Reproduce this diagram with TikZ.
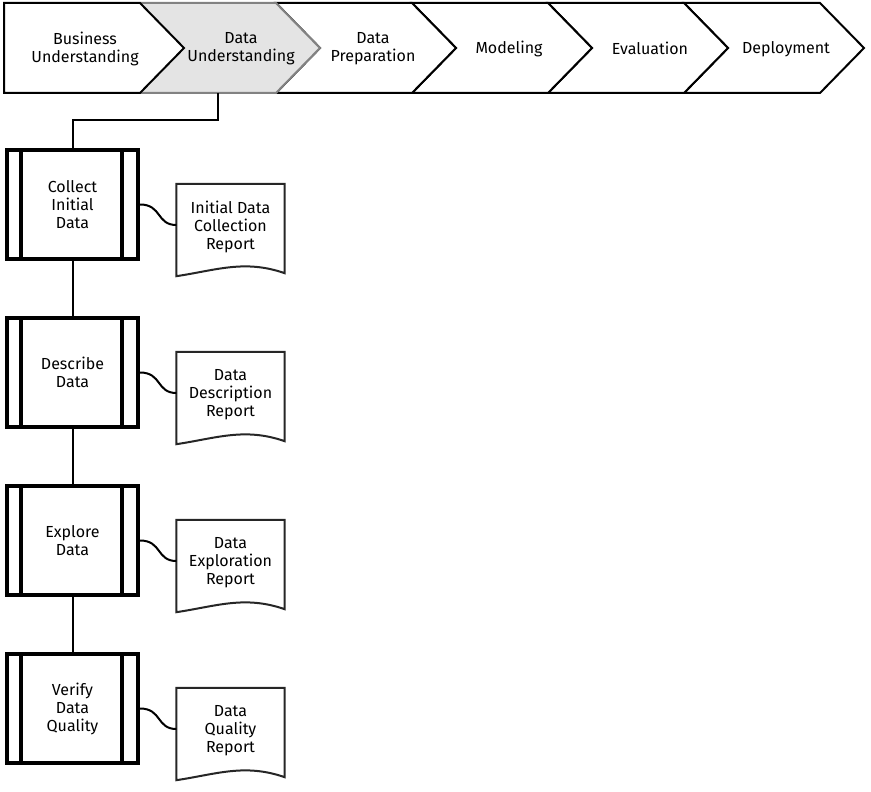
\documentclass[tikz,border=0pt]{standalone}
\usepackage{fontspec}
\setmainfont{Fira Sans}
\definecolor{phasefill}{RGB}{228,228,228}
\definecolor{phaseedge}{RGB}{130,130,130}
\begin{document}
\begin{tikzpicture}[x=1pt,y=-1pt,
  every node/.style={font=\fontsize{16}{18}\selectfont, align=center, inner sep=0pt},
  phase/.style={draw=black, line width=2pt, fill=white, line join=miter},
  current/.style={draw=phaseedge, line width=2pt, fill=phasefill, line join=miter},
  procbox/.style={draw=black, line width=4pt, minimum width=131pt, minimum height=109pt},
  docbox/.style={minimum width=108pt, minimum height=92pt},
  docline/.style={draw=black!85, line width=2pt, fill=white, line join=miter},
  conn/.style={draw=black, line width=2pt}]
\useasboundingbox (0,0) rectangle (871,792);

% phase chevrons (later phases first, so the current phase overlaps them)
\foreach \L in {684,548,412,276}{
  \draw[phase] (\L,3) -- (\L+136,3) -- (\L+180,48) -- (\L+136,93) -- (\L,93) -- (\L+44,48) -- cycle;
}
\fill[phasefill] (140,3) -- (276,3) -- (320,48) -- (276,93) -- (140,93) -- (184,48) -- cycle;
\draw[current] (140,3) -- (276,3) -- (320,48) -- (276,93) -- (140,93);
\draw[phase] (4,3) -- (140,3) -- (184,48) -- (140,93) -- (4,93) -- cycle;

\node (bu) at (85,49) {Business\\Understanding};
\node (du) at (241,49) {Data\\Understanding};
\node (dp) at (373,49) {Data\\Preparation};
\node (mo) at (509,49) {Modeling};
\node (ev) at (650,48) {Evaluation};
\node (de) at (786,49) {Deployment};
\coordinate (duout) at (218,93);

% generic tasks
\node[procbox] (p1) at (72.5,204.5) {Collect\\Initial\\Data};
\node[procbox] (p2) at (72.5,372.5) {Describe\\Data};
\node[procbox] (p3) at (72.5,540.5) {Explore\\Data};
\node[procbox] (p4) at (72.5,708.5) {Verify\\Data\\Quality};
\foreach \p in {p1,p2,p3,p4}{
  \draw[line width=4pt] ([xshift=16pt]\p.north west) -- ([xshift=16pt]\p.south west);
  \draw[line width=4pt] ([xshift=-18pt]\p.north east) -- ([xshift=-18pt]\p.south east);
}

% output documents
\foreach \d/\y in {d1/230,d2/398,d3/566,d4/734}{
  \path[draw=none] (230.5,\y) node[docbox] (\d) {};
  \draw[docline] (\d.south west) -- (\d.north west) -- (\d.north east) -- ([yshift=3pt]\d.south east)
    .. controls +(-40,-14) and +(40,-6) .. (\d.south west) -- cycle;
}
\node at ([yshift=3pt]d1.center) {Initial Data\\Collection\\Report};
\node at ([yshift=3pt]d2.center) {Data\\Description\\Report};
\node at ([yshift=3pt]d3.center) {Data\\Exploration\\Report};
\node at ([yshift=3pt]d4.center) {Data\\Quality\\Report};

% connectors
\draw[conn] (duout) -- (218,120) -| (p1.north);
\draw[conn] (p1.south) -- (p2.north);
\draw[conn] (p2.south) -- (p3.north);
\draw[conn] (p3.south) -- (p4.north);
\foreach \p/\d in {p1/d1,p2/d2,p3/d3,p4/d4}{
  \draw[conn] (\p.east) .. controls +(22,0) and +(-20,0) .. ([yshift=5pt]\d.west);
}
\end{tikzpicture}
\end{document}
